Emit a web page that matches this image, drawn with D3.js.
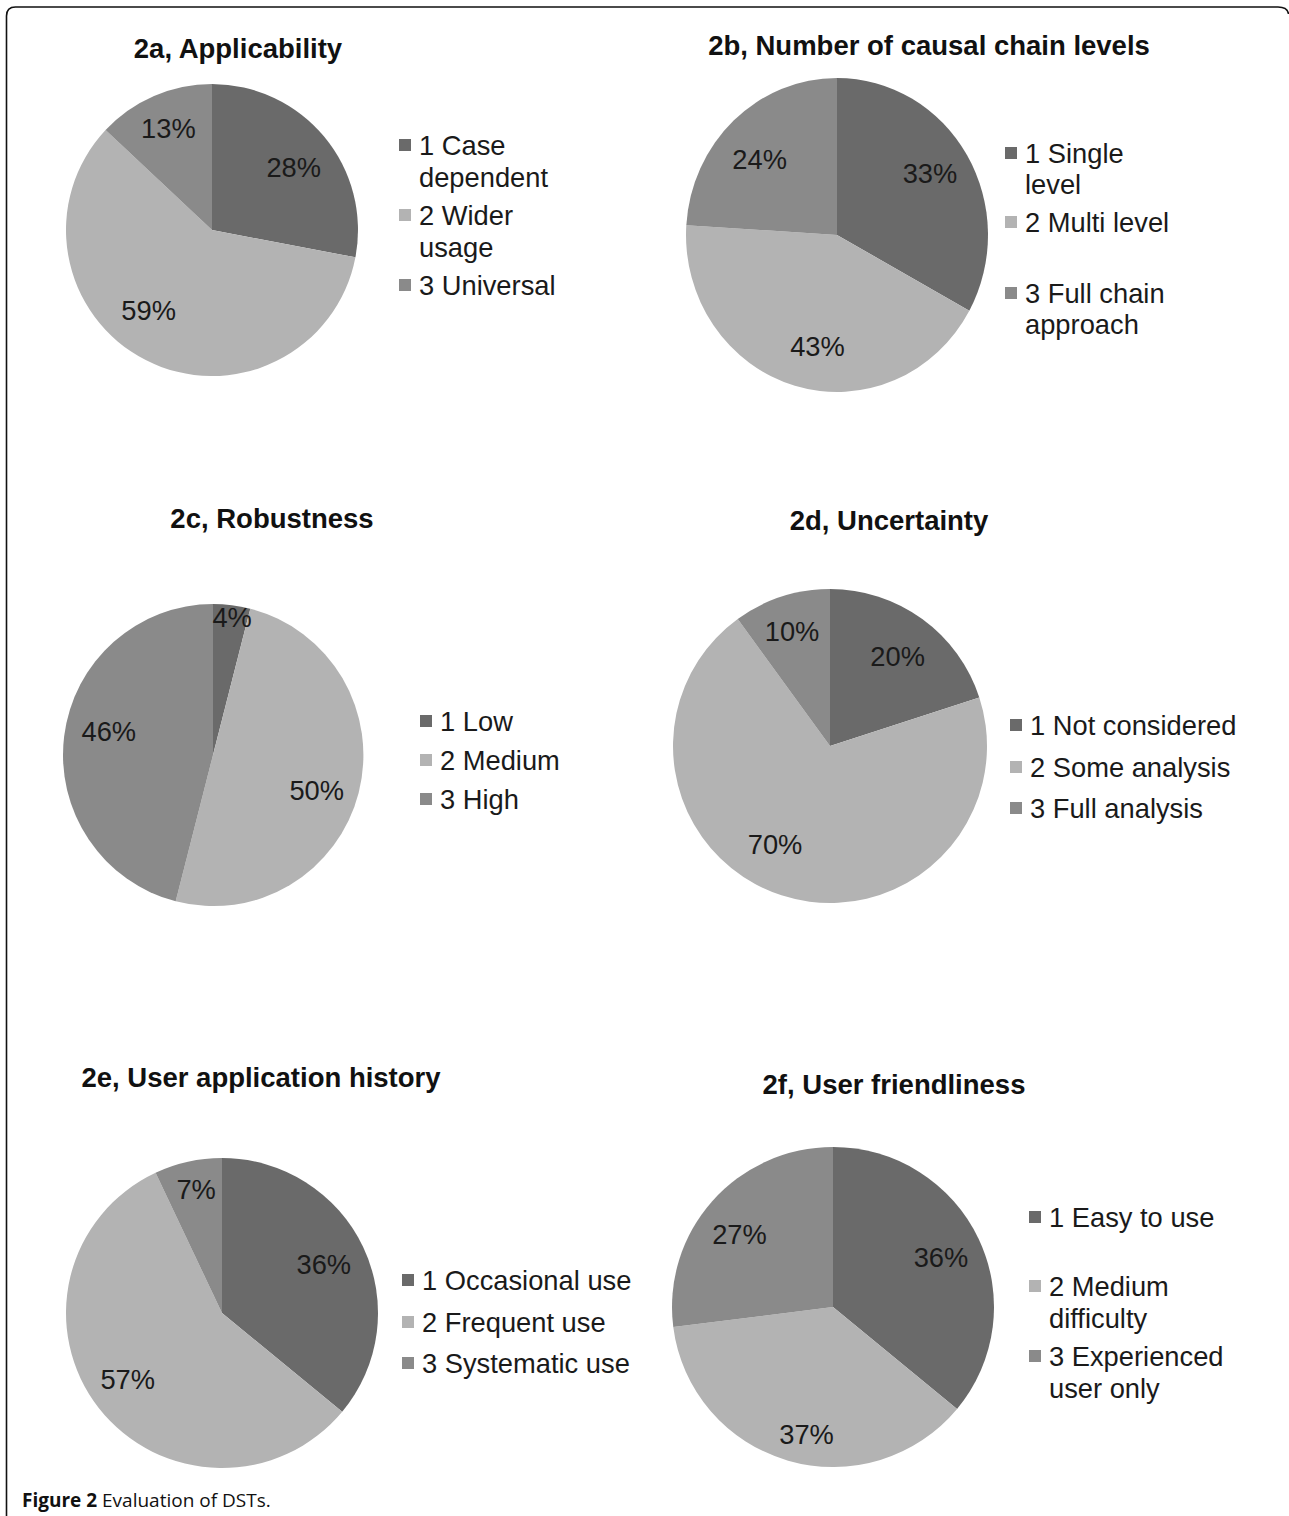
<!DOCTYPE html>
<html>
<head>
<meta charset="utf-8">
<script src="https://cdn.jsdelivr.net/npm/d3@7"></script>
<style>
  html, body { margin: 0; padding: 0; background: #fff; }
  svg { display: block; }
</style>
</head>
<body>
<svg id="chart" width="1289" height="1516"></svg>
<script>
// ---- Data ----
const titles = [
  "2a, Applicability",
  "2b, Number of causal chain levels",
  "2c, Robustness",
  "2d, Uncertainty",
  "2e, User application history",
  "2f, User friendliness"
];
const legendLabels = [
  [["1 Case", "dependent"], ["2 Wider", "usage"], ["3 Universal"]],
  [["1 Single", "level"], ["2 Multi level"], ["3 Full chain", "approach"]],
  [["1 Low"], ["2 Medium"], ["3 High"]],
  [["1 Not considered"], ["2 Some analysis"], ["3 Full analysis"]],
  [["1 Occasional use"], ["2 Frequent use"], ["3 Systematic use"]],
  [["1 Easy to use"], ["2 Medium", "difficulty"], ["3 Experienced", "user only"]]
];
const valuesA = [28, 59, 13];
const valuesB = [33, 43, 24];
const valuesC = [4, 50, 46];
const valuesD = [20, 70, 10];
const valuesE = [36, 57, 7];
const valuesF = [36, 37, 27];
const seriesValues = [valuesA, valuesB, valuesC, valuesD, valuesE, valuesF];
const caption = { bold: "Figure 2", rest: " Evaluation of DSTs." };

// ---- Layout (positions / styles) ----
const colors = ["#6a6a6a", "#b3b3b3", "#8a8a8a"];
const layout = [
  { tx: 238, ty: 58,  cx: 212, cy: 230,  rx: 146, ry: 146, lx: 399, ly: [145, 177, 215, 247, 285], labR: 0.70 },
  { tx: 929, ty: 55,  cx: 837, cy: 235,  rx: 151, ry: 157, lx: 1005, ly: [153, 184, 222, 293, 324], labR: 0.70 },
  { tx: 272, ty: 528, cx: 213, cy: 755,  rx: 150, ry: 151, lx: 420, ly: [721, 760, 799], labR: 0.70 },
  { tx: 889, ty: 530, cx: 830, cy: 746,  rx: 157, ry: 157, lx: 1010, ly: [725, 767, 808], labR: 0.70 },
  { tx: 261, ty: 1087, cx: 222, cy: 1313, rx: 156, ry: 155, lx: 402, ly: [1280, 1322, 1363], labR: 0.70 },
  { tx: 894, ty: 1094, cx: 833, cy: 1307, rx: 161, ry: 160, lx: 1029, ly: [1217, 1286, 1318, 1356, 1388], labR: 0.70 }
];
const labelOffsets = [
  [[3, 3], [-17, -11], [-3, -8]],
  [[2, -6], [10, 6], [-5, 5]],
  [[6, -33], [2, 9], [0, -10]],
  [[3, -1], [-21, -6], [-4, -10]],
  [[3, -2], [-8, 0], [-2, -18]],
  [[6, -2], [5, 20], [-9, 2]]
];

const svg = d3.select("#chart");
const font = "Arial, 'Liberation Sans', Helvetica, sans-serif";
const textSize = 27.3;

// frame
svg.append("path")
  .attr("d", "M6.5,1516 V16 Q6.5,7 15.5,7 H1278 Q1287.5,7 1288.5,14")
  .attr("fill", "none")
  .attr("stroke", "#111")
  .attr("stroke-width", 1.6);

const pie = d3.pie().sort(null).value(d => d);

seriesValues.forEach((vals, i) => {
  const L = layout[i];
  const g = svg.append("g");

  // title
  g.append("text")
    .attr("x", L.tx).attr("y", L.ty)
    .attr("text-anchor", "middle")
    .attr("font-family", font)
    .attr("font-weight", "bold")
    .attr("font-size", 27.5)
    .attr("fill", "#111")
    .text(titles[i]);

  const arc = d3.arc().innerRadius(0).outerRadius(L.rx);
  const labArc = d3.arc().innerRadius(L.rx * L.labR).outerRadius(L.rx * L.labR);
  const arcs = pie(vals);
  const sy = L.ry / L.rx;

  const pg = g.append("g")
    .attr("transform", `translate(${L.cx},${L.cy}) scale(1,${sy})`);
  pg.selectAll("path")
    .data(arcs)
    .join("path")
    .attr("d", arc)
    .attr("fill", (d, j) => colors[j]);

  // percent labels
  g.selectAll("text.pct")
    .data(arcs)
    .join("text")
    .attr("class", "pct")
    .attr("x", (d, j) => L.cx + labArc.centroid(d)[0] + labelOffsets[i][j][0])
    .attr("y", (d, j) => L.cy + labArc.centroid(d)[1] * sy + labelOffsets[i][j][1])
    .attr("text-anchor", "middle")
    .attr("dominant-baseline", "central")
    .attr("font-family", font)
    .attr("font-size", textSize)
    .attr("fill", "#1a1a1a")
    .text(d => d.value + "%");

  // legend
  let row = 0;
  legendLabels[i].forEach((lines, j) => {
    const y0 = L.ly[row];
    g.append("rect")
      .attr("x", L.lx).attr("y", y0 - 6)
      .attr("width", 12).attr("height", 12)
      .attr("fill", colors[j]);
    lines.forEach((line) => {
      g.append("text")
        .attr("x", L.lx + 20)
        .attr("y", L.ly[row])
        .attr("dominant-baseline", "central")
        .attr("font-family", font)
        .attr("font-size", textSize)
        .attr("fill", "#1a1a1a")
        .text(line);
      row++;
    });
  });
});

// caption
const cap = svg.append("text")
  .attr("x", 22).attr("y", 1507)
  .attr("font-family", "'Open Sans', 'Noto Sans', sans-serif")
  .attr("font-size", 19)
  .attr("fill", "#111");
cap.append("tspan").attr("font-weight", "bold").text(caption.bold);
cap.append("tspan").text(caption.rest);
</script>
</body>
</html>
